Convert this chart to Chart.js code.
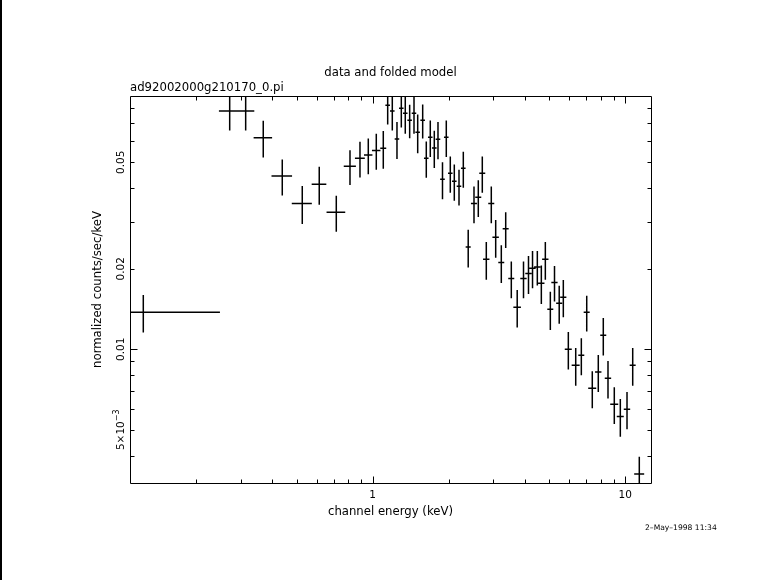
<!DOCTYPE html>
<html>
<head>
<meta charset="utf-8">
<script src="https://cdn.jsdelivr.net/npm/chart.js@4/dist/chart.umd.min.js"></script>
<style>
  html, body { margin: 0; padding: 0; background: #ffffff; }
  #wrap { position: relative; width: 781px; height: 580px; overflow: hidden; }
  #edge { position: absolute; left: 0; top: 0; width: 2px; height: 580px; background: #000; }
  canvas { display: block; }
</style>
</head>
<body>
<div id="wrap">
  <canvas id="c" width="781" height="580"></canvas>
  <div id="edge"></div>
</div>
<script>
// ---- data (channel energy in keV, normalized counts/sec/keV) ----
const energy = [0.1235, 0.2715, 0.3141, 0.3687, 0.4385, 0.5262, 0.6143, 0.7176, 0.8131, 0.8906,
  0.9607, 1.0334, 1.1015, 1.1466, 1.1958, 1.248, 1.2983, 1.346, 1.401, 1.4576,
  1.5074, 1.5776, 1.6303, 1.6908, 1.7538, 1.8139, 1.8899, 1.9565, 2.0292, 2.1047,
  2.197, 2.2849, 2.3893, 2.5188, 2.6194, 2.7168, 2.8177, 2.9491, 3.0697, 3.2309,
  3.3631, 3.5394, 3.735, 3.956, 4.14, 4.295, 4.487, 4.654, 4.827, 5.052,
  5.248, 5.478, 5.687, 5.953, 6.368, 6.702, 7.04, 7.406, 7.823, 8.188,
  8.547, 9.052, 9.563, 10.165, 10.707, 11.37];
const energyErr = [0.1249, 0.0254, 0.0257, 0.031, 0.041, 0.048, 0.041, 0.061, 0.045, 0.040,
  0.037, 0.040, 0.030, 0.024, 0.025, 0.026, 0.027, 0.028, 0.029, 0.030,
  0.031, 0.033, 0.034, 0.035, 0.037, 0.038, 0.040, 0.041, 0.042, 0.044,
  0.046, 0.048, 0.055, 0.069, 0.072, 0.074, 0.082, 0.081, 0.090, 0.088,
  0.092, 0.097, 0.129, 0.115, 0.12, 0.125, 0.13, 0.135, 0.14, 0.138,
  0.15, 0.15, 0.16, 0.19, 0.232, 0.183, 0.193, 0.27, 0.228, 0.224,
  0.249, 0.33, 0.305, 0.297, 0.293, 0.518];
const rate = [0.01375, 0.0778, 0.0778, 0.0618, 0.0444, 0.0351, 0.0414, 0.0325, 0.0483, 0.0518,
  0.0532, 0.0554, 0.0564, 0.0817, 0.0778, 0.0611, 0.0796, 0.0762, 0.0718, 0.0762,
  0.0647, 0.0718, 0.0518, 0.0620, 0.0566, 0.0610, 0.0432, 0.0620, 0.0455, 0.0425,
  0.0407, 0.0475, 0.0241, 0.0351, 0.0370, 0.0455, 0.0217, 0.0351, 0.0262, 0.0211,
  0.0282, 0.0184, 0.01435, 0.0184, 0.0192, 0.0201, 0.0203, 0.01765, 0.0217, 0.0141,
  0.01777, 0.01486, 0.01566, 0.0100, 0.00871, 0.00949, 0.01375, 0.00715, 0.00822, 0.01128,
  0.00779, 0.00623, 0.00561, 0.00597, 0.00871, 0.00342];
const rateErr = [0.0022, 0.0121, 0.0121, 0.0097, 0.0068, 0.0057, 0.0067, 0.0050, 0.0072, 0.0079,
  0.0081, 0.0085, 0.0091, 0.0125, 0.0121, 0.0097, 0.0122, 0.0123, 0.0103, 0.0123,
  0.0107, 0.0104, 0.0080, 0.0097, 0.0090, 0.0097, 0.0068, 0.0097, 0.0070, 0.0066,
  0.0062, 0.0073, 0.0039, 0.0055, 0.0058, 0.0070, 0.0035, 0.0055, 0.0042, 0.0034,
  0.0043, 0.0029, 0.0023, 0.0029, 0.0031, 0.0032, 0.0030, 0.0029, 0.0035, 0.0023,
  0.0027, 0.0024, 0.0025, 0.0016, 0.0014, 0.0015, 0.0021, 0.00113, 0.0013, 0.0018,
  0.00125, 0.00098, 0.0009, 0.00095, 0.0014, 0.00054];

// ---- axes ----
const xMin = 0.1094, xMax = 12.65;
const yMin = 0.003162, yMax = 0.08847;
const xMajorTicks = [1, 10];
const xMinorTicks = [0.2, 0.3, 0.4, 0.5, 0.6, 0.7, 0.8, 0.9, 2, 3, 4, 5, 6, 7, 8, 9];
const xTickLabels = ['1', '10'];
const yMajorTicks = [0.01];
const yMinorTicks = [0.004, 0.005, 0.006, 0.007, 0.008, 0.009, 0.02, 0.03, 0.04, 0.05, 0.06, 0.07, 0.08];
const yLabelValues = [0.05, 0.02, 0.01, 0.005];
const yTickLabels = ['0.05', '0.02', '0.01', '5\u00d710|\u22123'];

const titleText = 'data and folded model';
const fileText = 'ad92002000g210170_0.pi';
const xTitle = 'channel energy (keV)';
const yTitle = 'normalized counts/sec/keV';
const dateText = '2\u2013May\u20131998 11:34';

// build error-bar segments (NaN separates segments)
const segments = [];
for (let i = 0; i < energy.length; i++) {
  const lo = Math.max(energy[i] - energyErr[i], 1e-3);
  segments.push({x: lo, y: rate[i]}, {x: energy[i] + energyErr[i], y: rate[i]}, {x: NaN, y: NaN});
  segments.push({x: energy[i], y: rate[i] - rateErr[i]}, {x: energy[i], y: rate[i] + rateErr[i]}, {x: NaN, y: NaN});
}

const FONT = '"DejaVu Sans", "Liberation Sans", sans-serif';

const framePlugin = {
  id: 'pgframe',
  afterDraw(chart) {
    const ctx = chart.ctx;
    const a = chart.chartArea;
    const xs = chart.scales.x, ys = chart.scales.y;
    const L = Math.round(a.left) + 0.5, R = Math.round(a.right) + 0.5;
    const T = Math.round(a.top) + 0.5, B = Math.round(a.bottom) + 0.5;
    ctx.save();
    ctx.strokeStyle = '#000';
    ctx.fillStyle = '#000';
    ctx.lineWidth = 1;
    ctx.beginPath();
    ctx.rect(L, T, R - L, B - T);
    ctx.stroke();
    const tickX = (v, len) => {
      const px = Math.round(xs.getPixelForValue(v)) + 0.5;
      ctx.moveTo(px, B); ctx.lineTo(px, B - len);
      ctx.moveTo(px, T); ctx.lineTo(px, T + len);
    };
    const tickY = (v, len) => {
      const py = Math.round(ys.getPixelForValue(v)) + 0.5;
      ctx.moveTo(L, py); ctx.lineTo(L + len, py);
      ctx.moveTo(R, py); ctx.lineTo(R - len, py);
    };
    ctx.beginPath();
    xMajorTicks.forEach(v => tickX(v, 7));
    xMinorTicks.forEach(v => tickX(v, 4));
    yMajorTicks.forEach(v => tickY(v, 7));
    yMinorTicks.forEach(v => tickY(v, 4));
    ctx.stroke();

    // x tick labels
    ctx.font = '10.5px ' + FONT;
    ctx.textAlign = 'center';
    ctx.textBaseline = 'alphabetic';
    xMajorTicks.forEach((v, i) => {
      ctx.fillText(xTickLabels[i], xs.getPixelForValue(v), a.bottom + 15);
    });
    // y tick labels (rotated)
    yLabelValues.forEach((v, i) => {
      const py = ys.getPixelForValue(v);
      const parts = yTickLabels[i].split('|');
      ctx.save();
      ctx.translate(a.left - 6.5, py);
      ctx.rotate(-Math.PI / 2);
      ctx.textAlign = 'left';
      ctx.font = '10.5px ' + FONT;
      const w0 = ctx.measureText(parts[0]).width;
      let w1 = 0;
      if (parts[1]) { ctx.font = '8px ' + FONT; w1 = ctx.measureText(parts[1]).width; }
      const start = -(w0 + w1) / 2;
      ctx.font = '10.5px ' + FONT;
      ctx.fillText(parts[0], start, 0);
      if (parts[1]) { ctx.font = '8px ' + FONT; ctx.fillText(parts[1], start + w0, -5); }
      ctx.restore();
    });

    // titles
    ctx.font = '11.7px ' + FONT;
    ctx.textAlign = 'center';
    ctx.fillText(titleText, (a.left + a.right) / 2, a.top - 20);
    ctx.textAlign = 'left';
    ctx.fillText(fileText, a.left, a.top - 5.5);
    ctx.textAlign = 'center';
    ctx.fillText(xTitle, (a.left + a.right) / 2, a.bottom + 32);
    ctx.save();
    ctx.translate(a.left - 29.5, (a.top + a.bottom) / 2);
    ctx.rotate(-Math.PI / 2);
    ctx.fillText(yTitle, 0, 0);
    ctx.restore();
    ctx.font = '7.6px ' + FONT;
    ctx.textAlign = 'left';
    ctx.fillText(dateText, a.right - 6, a.bottom + 47);
    ctx.restore();
  }
};

new Chart(document.getElementById('c'), {
  type: 'scatter',
  data: {
    datasets: [{
      label: 'data',
      data: segments,
      showLine: true,
      spanGaps: false,
      borderColor: '#000',
      borderWidth: 1.5,
      pointRadius: 0,
      pointHoverRadius: 0,
      clip: 0
    }]
  },
  options: {
    responsive: false,
    animation: false,
    devicePixelRatio: 1,
    layout: { padding: { left: 130, right: 130, top: 96, bottom: 97 } },
    plugins: { legend: { display: false }, title: { display: false }, tooltip: { enabled: false } },
    events: [],
    scales: {
      x: { type: 'logarithmic', min: xMin, max: xMax, display: false },
      y: { type: 'logarithmic', min: yMin, max: yMax, display: false }
    }
  },
  plugins: [framePlugin]
});
</script>
</body>
</html>
